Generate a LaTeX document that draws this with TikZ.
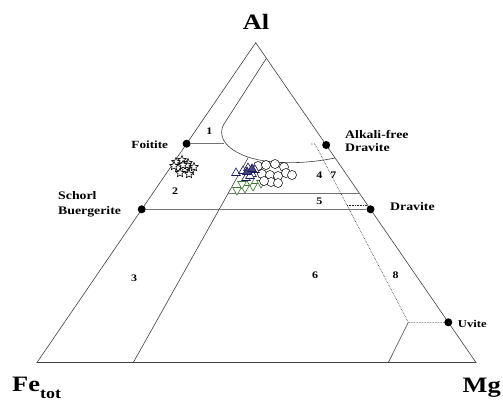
\documentclass[tikz,border=0pt]{standalone}
\usepackage{fontspec}
\setmainfont[FakeStretch=1.2]{Liberation Serif}
\usetikzlibrary{shapes.geometric}

\definecolor{ptnavy}{RGB}{25,25,95}
\definecolor{ptgreen}{RGB}{60,120,45}

\begin{document}
\begin{tikzpicture}[x=1pt,y=-1pt,
  edge/.style={black!75,line width=0.6pt},
  hline/.style={black!55,line width=0.6pt},
  dotline/.style={black!85,line width=0.6pt,densely dotted},
  dot/.style={circle,fill=black,inner sep=0pt,minimum size=8pt},
  corner/.style={inner sep=0pt,font=\fontsize{22}{24}\selectfont\bfseries},
  mineral/.style={inner sep=0pt,anchor=base west,font=\fontsize{11.5}{13}\selectfont\bfseries},
  field/.style={inner sep=0pt,font=\fontsize{10}{12}\selectfont\bfseries},
  starmark/.style={star,star points=5,star point ratio=2.2,draw=black,fill=white,
                   line width=0.6pt,inner sep=0pt,minimum size=9pt},
  circmark/.style={circle,draw=black,fill=white,line width=0.5pt,inner sep=0pt,minimum size=9pt},
  upmark/.style={regular polygon,regular polygon sides=3,draw=ptnavy,fill=white,
                 line width=0.6pt,inner sep=0pt,minimum size=10pt},
  downmark/.style={regular polygon,regular polygon sides=3,shape border rotate=180,
                   draw=ptgreen,fill=white,line width=0.6pt,inner sep=0pt,minimum size=10pt}]
  \useasboundingbox (0,0) rectangle (503,402);

  %% corners of the Al-Fe-Mg triangle
  \coordinate (Al) at (255.7,42.7);
  \coordinate (Fe) at (37,362.5);
  \coordinate (Mg) at (476,362.5);
  \draw[edge] (Al) -- (Fe) -- (Mg) -- cycle;

  %% end members
  \node[dot] (foitite) at (186.6,143.7) {};
  \node[dot] (afdravite) at (326.2,145) {};
  \node[dot] (schorl) at (141.7,209.3) {};
  \node[dot] (dravite) at (370.5,209.3) {};
  \node[dot] (uvite) at (448.3,322.3) {};

  %% field 1 (Li-rich)
  \coordinate (r1) at (266.4,58.3);
  \coordinate (k1) at (224,124);
  \coordinate (k2) at (245,156);
  \coordinate (r2) at (335.1,158);
  \coordinate (f1) at (223.5,143.7);
  \draw[edge] (r1) -- (k1) .. controls (219,132) and (220,146) .. (k2)
              .. controls (266,164) and (300,165) .. (r2);
  \draw[hline] (foitite) -- (f1);

  %% slanted boundary 2/3 and 4,5/6
  \coordinate (b1) at (133.3,362.5);
  \coordinate (b1top) at (248,158);
  \draw[edge] (b1) -- (b1top);

  %% horizontal lines
  \coordinate (s45) at (228.2,193.3);
  \coordinate (r45) at (359.5,193.3);
  \draw[hline] (schorl) -- (dravite);
  \draw[hline] (s45) -- (r45);

  %% fields 7 and 8
  \coordinate (d0) at (311,144);
  \coordinate (d1) at (315,144);
  \coordinate (u1) at (408.3,322.3);
  \coordinate (d2) at (346.9,205);
  \coordinate (r7) at (367.5,205);
  \coordinate (b2) at (388.3,362.5);
  \draw[dotline] (d0) -- (d1) -- (u1) -- (uvite);
  \draw[dotline] (d2) -- (r7);
  \draw[edge] (u1) -- (b2);

  %% field numbers
  \node[field] (n1) at (209.3,130.7) {1};
  \node[field] (n2) at (175,191) {2};
  \node[field] (n3) at (134,278.3) {3};
  \node[field] (n4) at (319.3,175) {4};
  \node[field] (n5) at (319.3,201) {5};
  \node[field] (n6) at (315,275.7) {6};
  \node[field] (n7) at (333.3,175) {7};
  \node[field] (n8) at (395.7,275.7) {8};

  %% labels
  \node[corner,anchor=base] (allab) at (256,29) {Al};
  \node[corner,anchor=base west] (felab) at (12,391) {Fe\raisebox{-7pt}{\fontsize{15}{15}\selectfont tot}};
  \node[corner,anchor=base east] (mglab) at (501,392) {Mg};
  \node[mineral,anchor=base east,font=\fontsize{11}{13}\selectfont\bfseries] (foitlab) at (168.3,148) {Foitite};
  \node[mineral] (aflab1) at (345,138.5) {Alkali-free};
  \node[mineral] (aflab2) at (345,151) {Dravite};
  \node[mineral] (sclab1) at (58,199) {Schorl};
  \node[mineral] (sclab2) at (58,214) {Buergerite};
  \node[mineral] (drlab) at (390,210) {Dravite};
  \node[mineral,font=\fontsize{10.5}{12}\selectfont\bfseries] (uvlab) at (457.7,327.3) {Uvite};

  %% analyses
  \foreach \p [count=\i] in {(176,162),(182,160),(188,163),(178,168),(185,169),(174,166),
                            (191,171),(180,173),(187,165),(194,167),(183,165),(189,174)}
    \node[starmark] (st\i) at \p {};
  \foreach \p [count=\i] in {(237,190),(245,188),(253,186),(261,183),(250,181),(242,184)}
    \node[downmark] (gt\i) at \p {};
  \foreach \p [count=\i] in {(258,166),(266,165),(275,164),(284,167),(262,174),(270,175),
                            (278,176),(286,173),(292,175),(271,182),(278,183),(264,181)}
    \node[circmark] (ci\i) at \p {};
  \foreach \p [count=\i] in {(236,173),(243,171),(248,168),(252,174),(246,178),(255,170),(250,176)}
    \node[upmark] (bt\i) at \p {};
  \foreach \p [count=\i] in {(247,172),(252,169)}
    \node[upmark,fill=ptnavy!80] (bf\i) at \p {};

\end{tikzpicture}
\end{document}
